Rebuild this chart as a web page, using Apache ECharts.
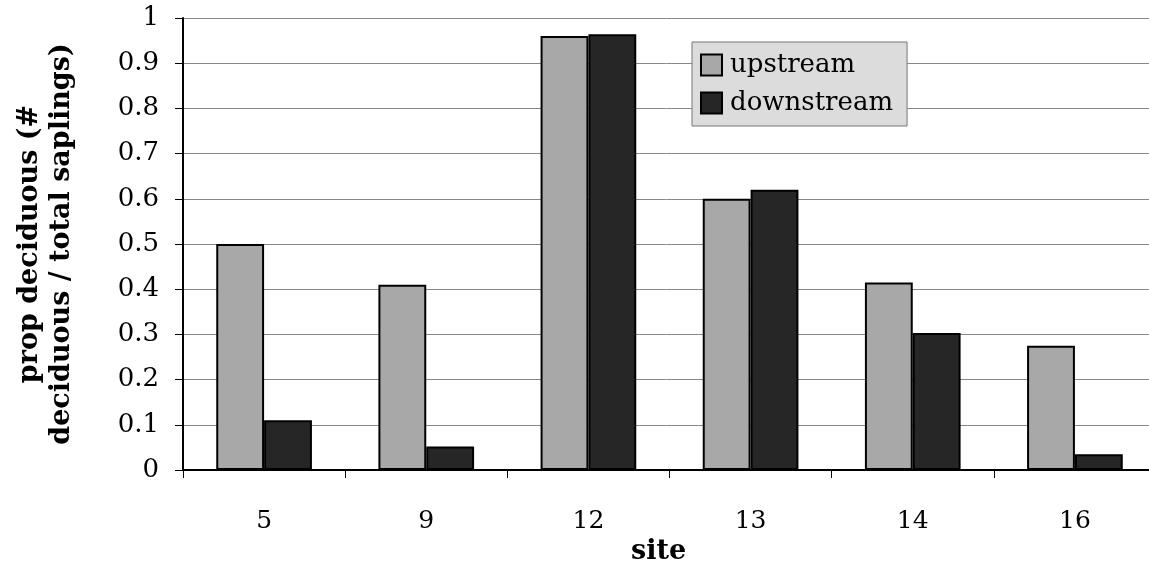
<!DOCTYPE html>
<html><head><meta charset="utf-8">
<script src="https://cdn.jsdelivr.net/npm/echarts@6/dist/echarts.min.js"></script>
<style>html,body{margin:0;padding:0;background:#fff}#c{width:1149px;height:562px}</style>
</head><body><div id="c"></div>
<script>
const sites = ['5','9','12','13','14','16'];
const upstream = [0.50, 0.41, 0.96, 0.60, 0.415, 0.275];
const downstream = [0.11, 0.052, 0.964, 0.62, 0.303, 0.035];
const yTicks = [0,0.1,0.2,0.3,0.4,0.5,0.6,0.7,0.8,0.9,1];
const ser = 'DejaVu Serif';
const chart = echarts.init(document.getElementById('c'));
chart.setOption({
  animation:false,
  textStyle:{fontFamily:ser},
  grid:{left:183,width:973,top:18,bottom:92, outerBoundsMode:'none', containLabel:false},
  legend:{
    left:692, top:42, orient:'vertical', itemWidth:21, itemHeight:21, itemGap:12, icon:'rect',
    padding:[10,14,10,8], backgroundColor:'#dcdcdc', borderColor:'#777', borderWidth:1,
    textStyle:{fontFamily:ser, fontSize:26, color:'#000', padding:[0,0,0,3]},
    data:['upstream','downstream']
  },
  xAxis:{
    type:'category', data:sites,
    axisLine:{lineStyle:{color:'#000',width:2}},
    axisTick:{show:true, length:8, lineStyle:{color:'#000'}},
    axisLabel:{fontSize:25, color:'#000', margin:39, fontFamily:ser},
    name:'site', nameLocation:'middle', nameGap:66,
    nameTextStyle:{fontSize:27, fontWeight:'bold', color:'#000', fontFamily:ser, padding:[0,22,0,0]}
  },
  yAxis:{
    type:'value', min:0, max:1, interval:0.1,
    axisLine:{show:true, lineStyle:{color:'#000',width:2}},
    axisTick:{show:true, length:8, lineStyle:{color:'#000'}},
    splitLine:{lineStyle:{color:'#888',width:1}},
    axisLabel:{fontSize:26, color:'#000', margin:24, fontFamily:ser,
      formatter:v=>{const t=yTicks.find(x=>Math.abs(x-v)<1e-9);return String(t);} },
    name:'prop deciduous (#\ndeciduous / total saplings)', nameLocation:'middle', nameGap:105,
    nameTextStyle:{fontSize:27, fontWeight:'bold', color:'#000', lineHeight:32, fontFamily:ser}
  },
  series:[
    {name:'upstream', type:'bar', data:upstream, barGap:'0%', barCategoryGap:'41%',
     itemStyle:{color:'#a8a8a8', borderColor:'#000', borderWidth:2}},
    {name:'downstream', type:'bar', data:downstream,
     itemStyle:{color:'#262626', borderColor:'#000', borderWidth:2}}
  ]
});
</script></body></html>
